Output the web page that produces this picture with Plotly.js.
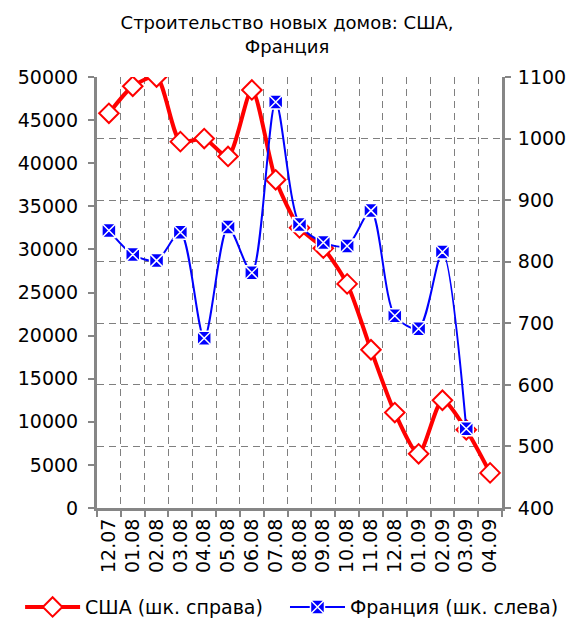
<!DOCTYPE html>
<html>
<head>
<meta charset="utf-8">
<script src="https://cdn.plot.ly/plotly-3.0.1.min.js"></script>
<style>html,body{margin:0;padding:0;background:#fff;}#chart{width:574px;height:622px;}</style>
</head>
<body>
<div id="chart"></div>
<script>
const categories = ['12.07','01.08','02.08','03.08','04.08','05.08','06.08','07.08','08.08','09.08','10.08','11.08','12.08','01.09','02.09','03.09','04.09'];
const usaValues = [1041,1085,1100,995,1000,971,1079,933,855,822,764,657,555,488,575,527,457];
const franceValues = [32200,29400,28700,32000,19700,32600,27300,47100,32900,30800,30400,34500,22300,20800,29700,9200,null];
const usaName = 'США (шк. справа)';
const franceName = 'Франция (шк. слева)';
const titleText = 'Строительство новых домов: США,<br>Франция';

const FONT = 'DejaVu Sans, Noto Sans, sans-serif';
const GRAY = '#868686';
const GRID = '#7f7f7f';

const traces = [
  {
    x: categories, y: usaValues, name: usaName, yaxis: 'y', legend: 'legend', type: 'scatter', mode: 'lines+markers',
    line: {color: '#ff0000', width: 4, shape: 'spline', smoothing: 0.7},
    marker: {symbol: 'diamond', size: 15, color: '#ffffff', line: {color: '#ff0000', width: 2}}
  },
  {
    x: categories, y: franceValues, name: franceName, yaxis: 'y2', legend: 'legend2', type: 'scatter', mode: 'lines+markers',
    line: {color: '#0000ff', width: 2, shape: 'spline', smoothing: 0.8},
    marker: {symbol: 'square-x', size: 14, color: '#0000ff', line: {color: '#ffffff', width: 1.5}}
  }
];

const legendCommon = {orientation: 'h', xref: 'container', yref: 'container', xanchor: 'left', y: 0.024, yanchor: 'middle', font: {family: FONT, size: 19}, itemwidth: 55, bgcolor: 'rgba(0,0,0,0)'};

const layout = {
  width: 574, height: 622,
  margin: {l: 97, r: 72, t: 77, b: 114, autoexpand: false},
  paper_bgcolor: '#ffffff', plot_bgcolor: '#ffffff',
  font: {family: FONT, size: 19, color: '#000000'},
  title: {text: titleText, font: {family: FONT, size: 18, color: '#000'}, x: 0.5, xref: 'container', xanchor: 'center', y: 0.953, yref: 'container', yanchor: 'middle'},
  showlegend: true,
  legend: Object.assign({}, legendCommon, {x: 0.035}),
  legend2: Object.assign({}, legendCommon, {x: 0.4965}),
  xaxis: {
    type: 'category', range: [-0.5, 16.5], tickson: 'boundaries', tickangle: -90, automargin: false, dtick: 1,
    showline: true, linecolor: GRAY, linewidth: 3, mirror: false,
    ticks: 'outside', ticklen: 6, tickwidth: 2, tickcolor: GRAY,
    showgrid: true, gridcolor: GRID, griddash: '7px,5px', gridwidth: 1,
    tickfont: {family: FONT, size: 19}, fixedrange: true, zeroline: false
  },
  yaxis: {
    range: [400, 1100], dtick: 100, tick0: 400, side: 'right', automargin: false,
    showgrid: true, gridcolor: GRID, griddash: '7px,5px', gridwidth: 1, zeroline: false,
    showline: true, linecolor: GRAY, linewidth: 3,
    ticks: 'outside', ticklen: 6, tickwidth: 2, tickcolor: GRAY,
    tickfont: {family: FONT, size: 19}, tickformat: 'd', ticklabelstandoff: 3
  },
  yaxis2: {
    range: [0, 50000], dtick: 5000, tick0: 0, overlaying: 'y', side: 'left', showgrid: false, zeroline: false, automargin: false,
    showline: true, linecolor: GRAY, linewidth: 3,
    ticks: 'outside', ticklen: 6, tickwidth: 2, tickcolor: GRAY,
    tickfont: {family: FONT, size: 19}, tickformat: 'd', ticklabelstandoff: 6
  }
};

Plotly.newPlot('chart', traces, layout, {displayModeBar: false, staticPlot: true});
</script>
</body>
</html>
